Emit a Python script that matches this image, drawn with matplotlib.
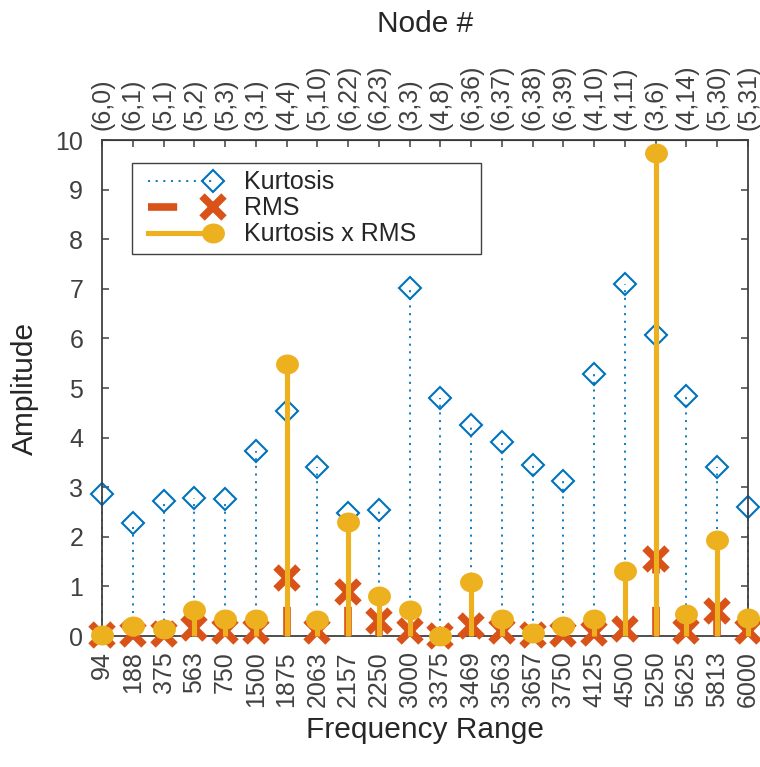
import numpy as np
import matplotlib
matplotlib.use('Agg')
import matplotlib.pyplot as plt
from matplotlib.lines import Line2D
from matplotlib.path import Path
from matplotlib.legend_handler import HandlerLine2D

plt.rcParams['font.family'] = ['Liberation Sans', 'DejaVu Sans']
plt.rcParams['lines.scale_dashes'] = False

# Données : une tige par bande de fréquence
freq_labels = ['94', '188', '375', '563', '750', '1500', '1875', '2063', '2157', '2250', '3000',
               '3375', '3469', '3563', '3657', '3750', '4125', '4500', '5250', '5625', '5813', '6000']
node_labels = ['(6,0)', '(6,1)', '(5,1)', '(5,2)', '(5,3)', '(3,1)', '(4,4)', '(5,10)', '(6,22)', '(6,23)',
               '(3,3)', '(4,8)', '(6,36)', '(6,37)', '(6,38)', '(6,39)', '(4,10)', '(4,11)', '(3,6)',
               '(4,14)', '(5,30)', '(5,31)']
kurtosis = [2.87, 2.28, 2.73, 2.79, 2.77, 3.72, 4.53, 3.41, 2.48, 2.55, 7.01,
            4.79, 4.26, 3.92, 3.45, 3.13, 5.29, 7.09, 6.06, 4.83, 3.41, 2.61]
rms = [0.02, 0.05, 0.05, 0.17, 0.10, 0.10, 1.17, 0.10, 0.88, 0.30, 0.10,
       0.01, 0.21, 0.10, 0.02, 0.05, 0.06, 0.14, 1.56, 0.10, 0.50, 0.10]
kurt_rms = [0.02, 0.20, 0.14, 0.53, 0.34, 0.34, 5.49, 0.33, 2.29, 0.81, 0.53,
            0.01, 1.08, 0.34, 0.07, 0.20, 0.34, 1.31, 9.74, 0.44, 1.94, 0.37]

BLUE = '#0072BD'
RED = '#D95319'
YELLOW = '#EDB120'
AXCOL = '#404040'
TXT = '#262626'
FS_TICK = 18
FS_LABEL = 21.5

blue_ls = (0, (1.5, 4.0))
red_ls = (0, (21, 24))

# cercle un peu aplati pour Kurtosis x RMS
circ = Path.unit_circle()
ellipse = Path(circ.vertices * [1.0, 0.87], circ.codes)

x = np.arange(len(freq_labels))

kurt_style = dict(marker='D', ms=11, mfc='none', mec=BLUE, mew=1.5)
rms_style = dict(marker='x', ms=16, mec=RED, mew=5.5)
prod_style = dict(marker=ellipse, ms=16.5, mfc=YELLOW, mec=YELLOW, mew=0)


class MarkerAtEnd(HandlerLine2D):
    """Ligne de légende avec le marqueur au bout, légèrement décalée vers la droite."""
    def create_artists(self, legend, orig_handle, xdescent, ydescent, width, height, fontsize, trans):
        artists = super().create_artists(legend, orig_handle, xdescent, ydescent, width, height, fontsize, trans)
        for a in artists:
            xd = np.asarray(a.get_xdata(), dtype=float)
            a.set_xdata(xd + 6)
            if len(xd) == 3:
                a.set_markevery([2])
        return artists


def style_stem(cont, color, lw, ls, mstyle, z):
    ml, sl, bl = cont
    sl.set_color(color)
    sl.set_linewidth(lw)
    sl.set_linestyle(ls)
    sl.set_zorder(z)
    ml.set(**mstyle)
    ml.set_zorder(z + 0.1)
    ml.set_clip_on(False)
    sl.set_clip_on(False)


fig = plt.figure(figsize=(7.6, 7.67), dpi=100)
ax = fig.add_axes([102 / 760, 1 - 636 / 767, 646 / 760, 496 / 767])

style_stem(ax.stem(x, kurtosis, basefmt=' '), BLUE, 1.3, blue_ls, kurt_style, 2)
style_stem(ax.stem(x, rms, basefmt=' '), RED, 5.5, red_ls, rms_style, 3)
style_stem(ax.stem(x, kurt_rms, basefmt=' '), YELLOW, 3.7, '-', prod_style, 4)

ax.set_xlim(0, len(x) - 1)
ax.set_ylim(0, 10)
ax.set_yticks(np.arange(0, 11, 1))
ax.set_xticks(x, labels=freq_labels, rotation=90)
ax.tick_params(direction='in', length=5, width=1.1, color=AXCOL, labelcolor=AXCOL,
               labelsize=FS_TICK, right=True)
ax.tick_params(axis='x', pad=11)
ax.tick_params(axis='y', pad=13.5)
for s in ax.spines.values():
    s.set_color(AXCOL)
    s.set_linewidth(1.3)

top = ax.secondary_xaxis('top')
top.set_xticks(x, labels=node_labels, rotation=90)
top.tick_params(direction='in', length=5, width=1.1, color=AXCOL, labelcolor=AXCOL,
                labelsize=FS_TICK, pad=7)
top.set_xlabel('Node #', fontsize=FS_LABEL, color=TXT)
top.xaxis.set_label_coords(0.5, 1.218, transform=ax.transAxes)

ax.set_xlabel('Frequency Range', fontsize=FS_LABEL, color=TXT)
ax.xaxis.set_label_coords(0.5, -0.162)
ax.set_ylabel('Amplitude', fontsize=FS_LABEL, color=TXT)
ax.yaxis.set_label_coords(-0.097, 0.5)

handles = [
    Line2D([], [], color=BLUE, ls=blue_ls, lw=1.3, **kurt_style),
    Line2D([], [], color=RED, ls=red_ls, lw=5.5, **rms_style),
    Line2D([], [], color=YELLOW, ls='-', lw=3.7, **prod_style),
]
leg = ax.legend(handles, ['Kurtosis', 'RMS', 'Kurtosis x RMS'],
                handler_map={Line2D: MarkerAtEnd()},
                loc='upper left', bbox_to_anchor=(0.046, 0.776, 0.540, 0.178), mode='expand',
                borderaxespad=0, fontsize=18, handlelength=2.6, handletextpad=1.6,
                labelspacing=0.08, borderpad=0.3, fancybox=False, framealpha=1, edgecolor=AXCOL)
leg.get_frame().set_linewidth(1.0)
for t in leg.get_texts():
    t.set_color(TXT)

fig.savefig('out.png', dpi=100)
